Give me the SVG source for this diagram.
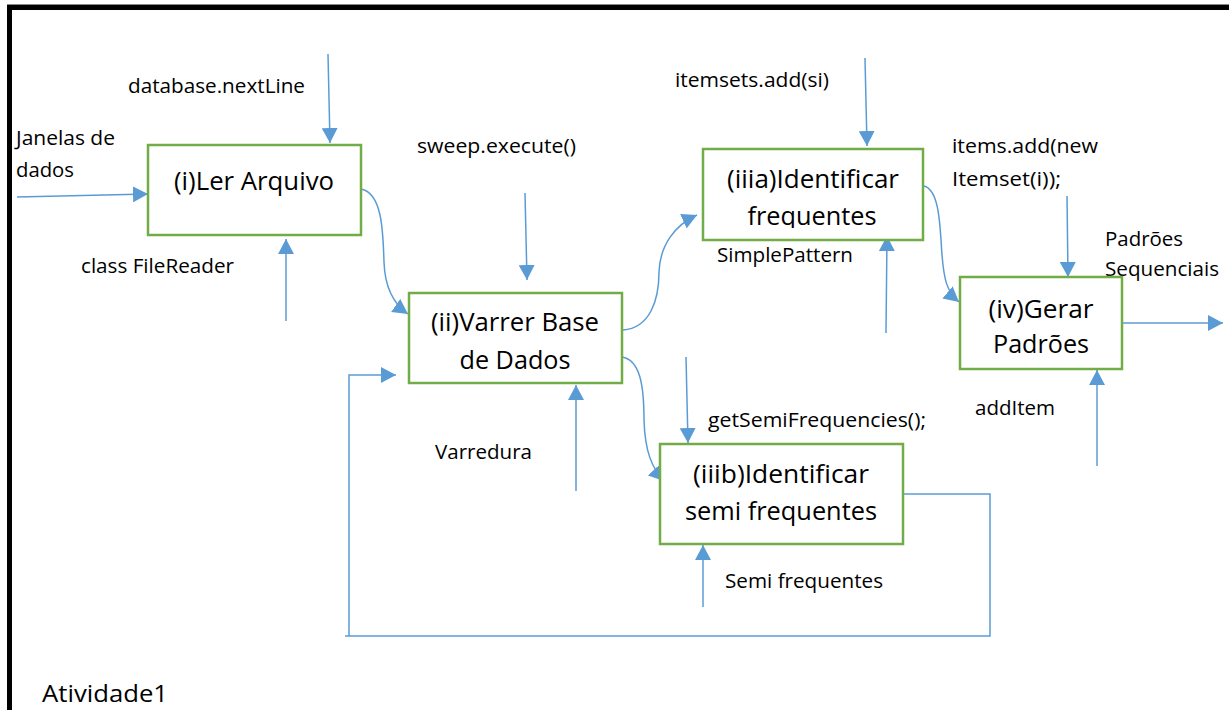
<svg xmlns="http://www.w3.org/2000/svg" width="1229" height="710" viewBox="0 0 1229 710">
  <style>
    .box { fill: #ffffff; stroke: #70AD47; stroke-width: 2.5; }
    .flow { fill: none; stroke: #5B9BD5; stroke-width: 1.5; }
    text { font-family: "Open Sans", "Liberation Sans", sans-serif; fill: #000000; font-variant-ligatures: none; }
    .lbl { font-size: 20px; }
    .title { font-size: 25px; text-anchor: middle; }
  </style>
  <defs>
    <marker id="head" markerUnits="userSpaceOnUse" markerWidth="16" markerHeight="16" viewBox="0 0 16 16" refX="15" refY="8" orient="auto">
      <path d="M0,0 L15,8 L0,16 Z" fill="#5B9BD5"/>
    </marker>
    <clipPath id="clip-iiia">
      <rect x="701" y="151" width="220" height="77"/>
    </clipPath>
  </defs>

  <rect width="1229" height="710" fill="#ffffff"/>

  <!-- page frame -->
  <path d="M9.5,710 V7.5 H1229" fill="none" stroke="#000000" stroke-width="5"/>
  <line x1="7" y1="4.5" x2="1229" y2="4.5" stroke="#888888" stroke-width="1"/>

  <!-- free labels -->
  <g id="labels">
    <text class="lbl" x="128" y="93" textLength="177" lengthAdjust="spacingAndGlyphs">database.nextLine</text>
    <text class="lbl" x="16" y="145" textLength="99" lengthAdjust="spacingAndGlyphs">Janelas de</text>
    <text class="lbl" x="16" y="177" textLength="58" lengthAdjust="spacingAndGlyphs">dados</text>
    <text class="lbl" x="81" y="273" textLength="153" lengthAdjust="spacingAndGlyphs">class FileReader</text>
    <text class="lbl" x="417" y="153" textLength="159" lengthAdjust="spacingAndGlyphs">sweep.execute()</text>
    <text class="lbl" x="675" y="87" textLength="154" lengthAdjust="spacingAndGlyphs">itemsets.add(si)</text>
    <text class="lbl" x="952" y="153" textLength="146" lengthAdjust="spacingAndGlyphs">items.add(new</text>
    <text class="lbl" x="952" y="186" textLength="109" lengthAdjust="spacingAndGlyphs">Itemset(i));</text>
    <text class="lbl" x="717" y="262" textLength="136" lengthAdjust="spacingAndGlyphs">SimplePattern</text>
    <text class="lbl" x="1105" y="246" textLength="78" lengthAdjust="spacingAndGlyphs">Padrões</text>
    <text class="lbl" x="1105" y="276" textLength="114" lengthAdjust="spacingAndGlyphs">Sequenciais</text>
    <text class="lbl" x="708" y="427" textLength="218" lengthAdjust="spacingAndGlyphs">getSemiFrequencies();</text>
    <text class="lbl" x="435" y="459" textLength="97" lengthAdjust="spacingAndGlyphs">Varredura</text>
    <text class="lbl" x="975" y="415" textLength="80" lengthAdjust="spacingAndGlyphs">addItem</text>
    <text class="lbl" x="725" y="588" textLength="158" lengthAdjust="spacingAndGlyphs">Semi frequentes</text>
    <text x="42" y="702" font-size="24.5" textLength="126" lengthAdjust="spacingAndGlyphs">Atividade1</text>
  </g>

  <!-- connectors -->
  <g id="connectors">
    <line class="flow" x1="17" y1="197" x2="148" y2="194" marker-end="url(#head)"/>
    <line class="flow" x1="328" y1="54" x2="330" y2="143" marker-end="url(#head)"/>
    <line class="flow" x1="286" y1="321" x2="286" y2="239" marker-end="url(#head)"/>
    <path class="flow" d="M361,189 C383,193 383,235 384,262 C385,290 395,305 408,314" marker-end="url(#head)"/>
    <line class="flow" x1="525" y1="193" x2="527" y2="280" marker-end="url(#head)"/>
    <path class="flow" d="M623,330 C650,328 659,300 659,272 C660,245 675,225 697,215" marker-end="url(#head)"/>
    <path class="flow" d="M622,357 C640,360 644,385 644,420 C645,452 652,468 664,481" marker-end="url(#head)"/>
    <line class="flow" x1="576" y1="491" x2="576" y2="385" marker-end="url(#head)"/>
    <line class="flow" x1="686" y1="357" x2="688" y2="443" marker-end="url(#head)"/>
    <line class="flow" x1="703" y1="607" x2="703" y2="545" marker-end="url(#head)"/>
    <line class="flow" x1="865" y1="58" x2="867" y2="146" marker-end="url(#head)"/>
    <line class="flow" x1="886" y1="333" x2="887" y2="236" marker-end="url(#head)"/>
    <path class="flow" d="M924,186 C940,190 940,228 942,255 C944,280 947,292 959,302" marker-end="url(#head)"/>
    <line class="flow" x1="1067" y1="196" x2="1068" y2="277" marker-end="url(#head)"/>
    <line class="flow" x1="1122" y1="323" x2="1223" y2="323" marker-end="url(#head)"/>
    <line class="flow" x1="1097" y1="466" x2="1097" y2="370" marker-end="url(#head)"/>
    <path class="flow" d="M903,494 H990 V636 H345 M349,636 V375 H396" marker-end="url(#head)"/>
  </g>

  <!-- nodes -->
  <g id="node-ler-arquivo">
    <rect class="box" x="148" y="145" width="213" height="90"/>
    <text class="title" x="254" y="190" textLength="160" lengthAdjust="spacingAndGlyphs">(i)Ler Arquivo</text>
  </g>
  <g id="node-varrer-base">
    <rect class="box" x="409" y="293" width="213" height="90"/>
    <text class="title" x="515" y="331" textLength="168" lengthAdjust="spacingAndGlyphs">(ii)Varrer Base</text>
    <text class="title" x="515" y="369" textLength="111" lengthAdjust="spacingAndGlyphs">de Dados</text>
  </g>
  <g id="node-identificar-frequentes">
    <rect class="box" x="703" y="149" width="220" height="91"/>
    <g clip-path="url(#clip-iiia)">
      <text class="title" x="813" y="188" textLength="172" lengthAdjust="spacingAndGlyphs">(iiia)Identificar</text>
      <text class="title" x="812" y="225" textLength="129" lengthAdjust="spacingAndGlyphs">frequentes</text>
    </g>
  </g>
  <g id="node-identificar-semi">
    <rect class="box" x="660" y="444" width="243" height="100"/>
    <text class="title" x="781" y="483" textLength="176" lengthAdjust="spacingAndGlyphs">(iiib)Identificar</text>
    <text class="title" x="781" y="520" textLength="192" lengthAdjust="spacingAndGlyphs">semi frequentes</text>
  </g>
  <g id="node-gerar-padroes">
    <rect class="box" x="960" y="277" width="162" height="92"/>
    <text class="title" x="1041" y="318" textLength="105" lengthAdjust="spacingAndGlyphs">(iv)Gerar</text>
    <text class="title" x="1041" y="353" textLength="96" lengthAdjust="spacingAndGlyphs">Padrões</text>
  </g>
</svg>
